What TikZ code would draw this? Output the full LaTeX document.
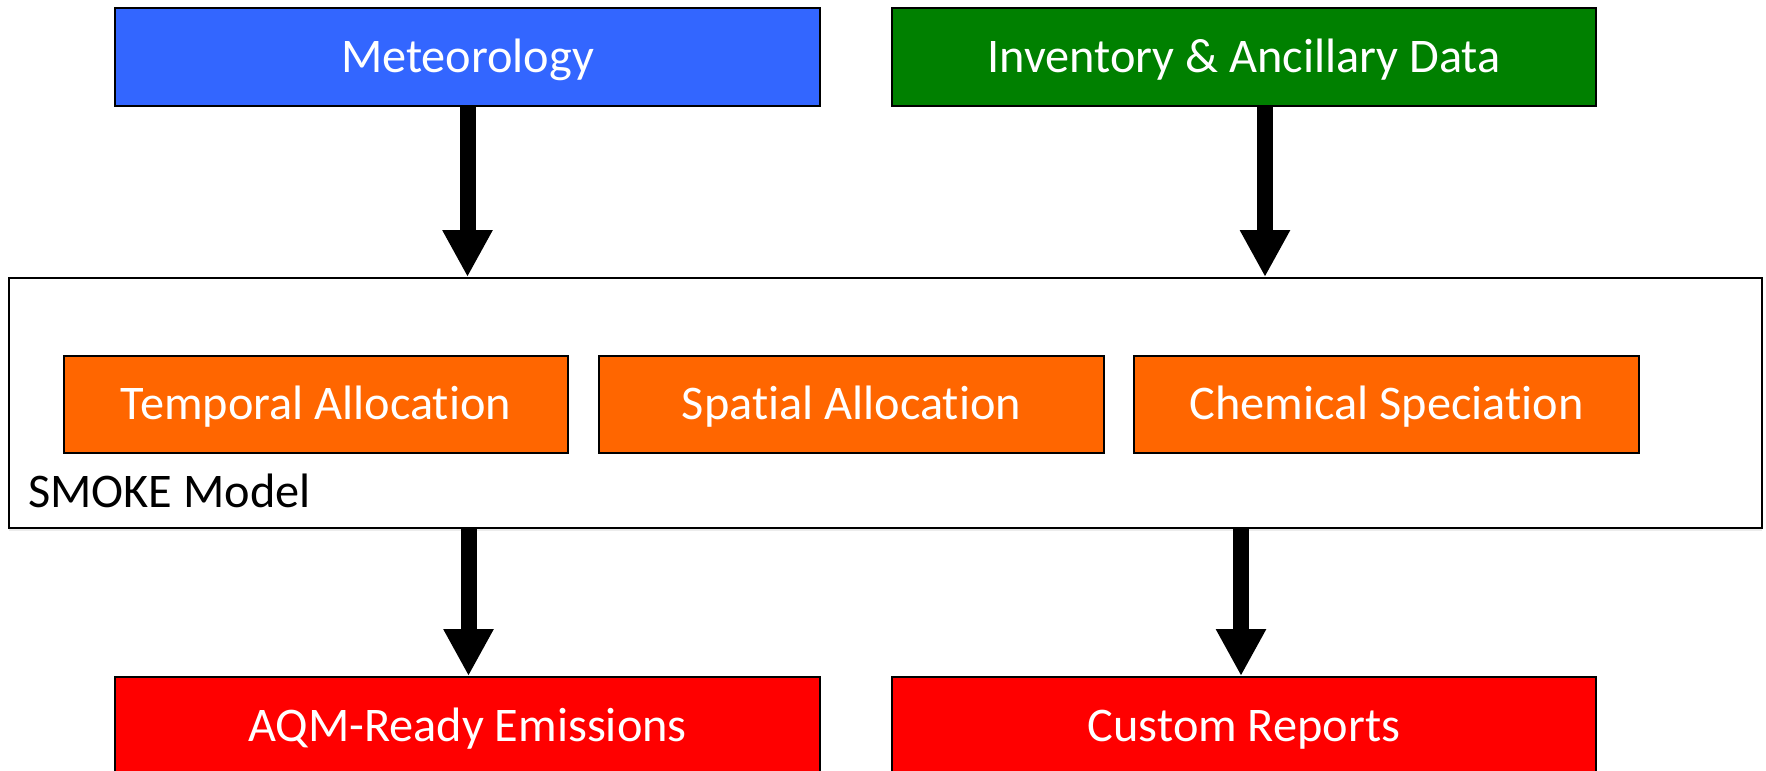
\documentclass[tikz,border=0pt]{standalone}
\usepackage{fontspec}
\setmainfont{Carlito}[Ligatures=NoCommon]
\usetikzlibrary{calc,shadows,arrows.meta}

\definecolor{metblue}{RGB}{51,102,255}
\definecolor{invgreen}{RGB}{0,128,0}
\definecolor{steporange}{RGB}{255,102,0}
\definecolor{outred}{RGB}{255,0,0}

\begin{document}
\begin{tikzpicture}[x=0.02cm,y=-0.02cm,
    every node/.style={font=\fontsize{27.5}{33}\selectfont},
    box/.style={draw=black,line width=1.1pt,text=white,text height=0.61cm,text depth=0pt,minimum width=14.1cm,minimum height=1.96cm},
    stepbox/.style={draw=black,line width=1.1pt,fill=steporange,text=white,text height=0.61cm,text depth=0pt,minimum width=10.1cm,minimum height=1.94cm},
    link/.style={-{Triangle[width=0.94cm,length=0.94cm]},line width=0.32cm}]
      \useasboundingbox (0,0) rectangle (1766,771);

      \node[box,fill=metblue] (meteorology) at (467.5,57) {Meteorology};
      \node[box,fill=invgreen] (inventory) at (1244,57) {Inventory \& Ancillary Data};

      \node[draw=black,line width=1.1pt,fill=white,drop shadow={shadow xshift=0pt,shadow yshift=-2pt,opacity=0.15},
            minimum width=35.06cm,minimum height=5cm] (smoke) at (885.5,403) {};
      \node[anchor=base west,inner sep=0pt] (smoke label) at (28,507) {SMOKE Model};

      \node[stepbox] (temporal) at (316,404.5) {Temporal Allocation};
      \node[stepbox] (spatial) at (851.5,404.5) {Spatial Allocation};
      \node[stepbox] (chemical) at (1386.5,404.5) {Chemical Speciation};

      \node[box,fill=outred] (aqm) at (467.5,726) {AQM-Ready Emissions};
      \node[box,fill=outred] (reports) at (1244,726) {Custom Reports};

      \draw[link] (meteorology.south) -- (meteorology.south |- smoke.north);
      \draw[link] ($ (inventory.south) + (21,0) $) -- ($ (inventory.south |- smoke.north) + (21,0) $);
      \draw[link] ($ (smoke.south -| aqm.north) + (1,0) $) -- ($ (aqm.north) + (1,0) $);
      \draw[link] ($ (smoke.south -| reports.north) + (-3,0) $) -- ($ (reports.north) + (-3,0) $);
    \end{tikzpicture}
\end{document}
